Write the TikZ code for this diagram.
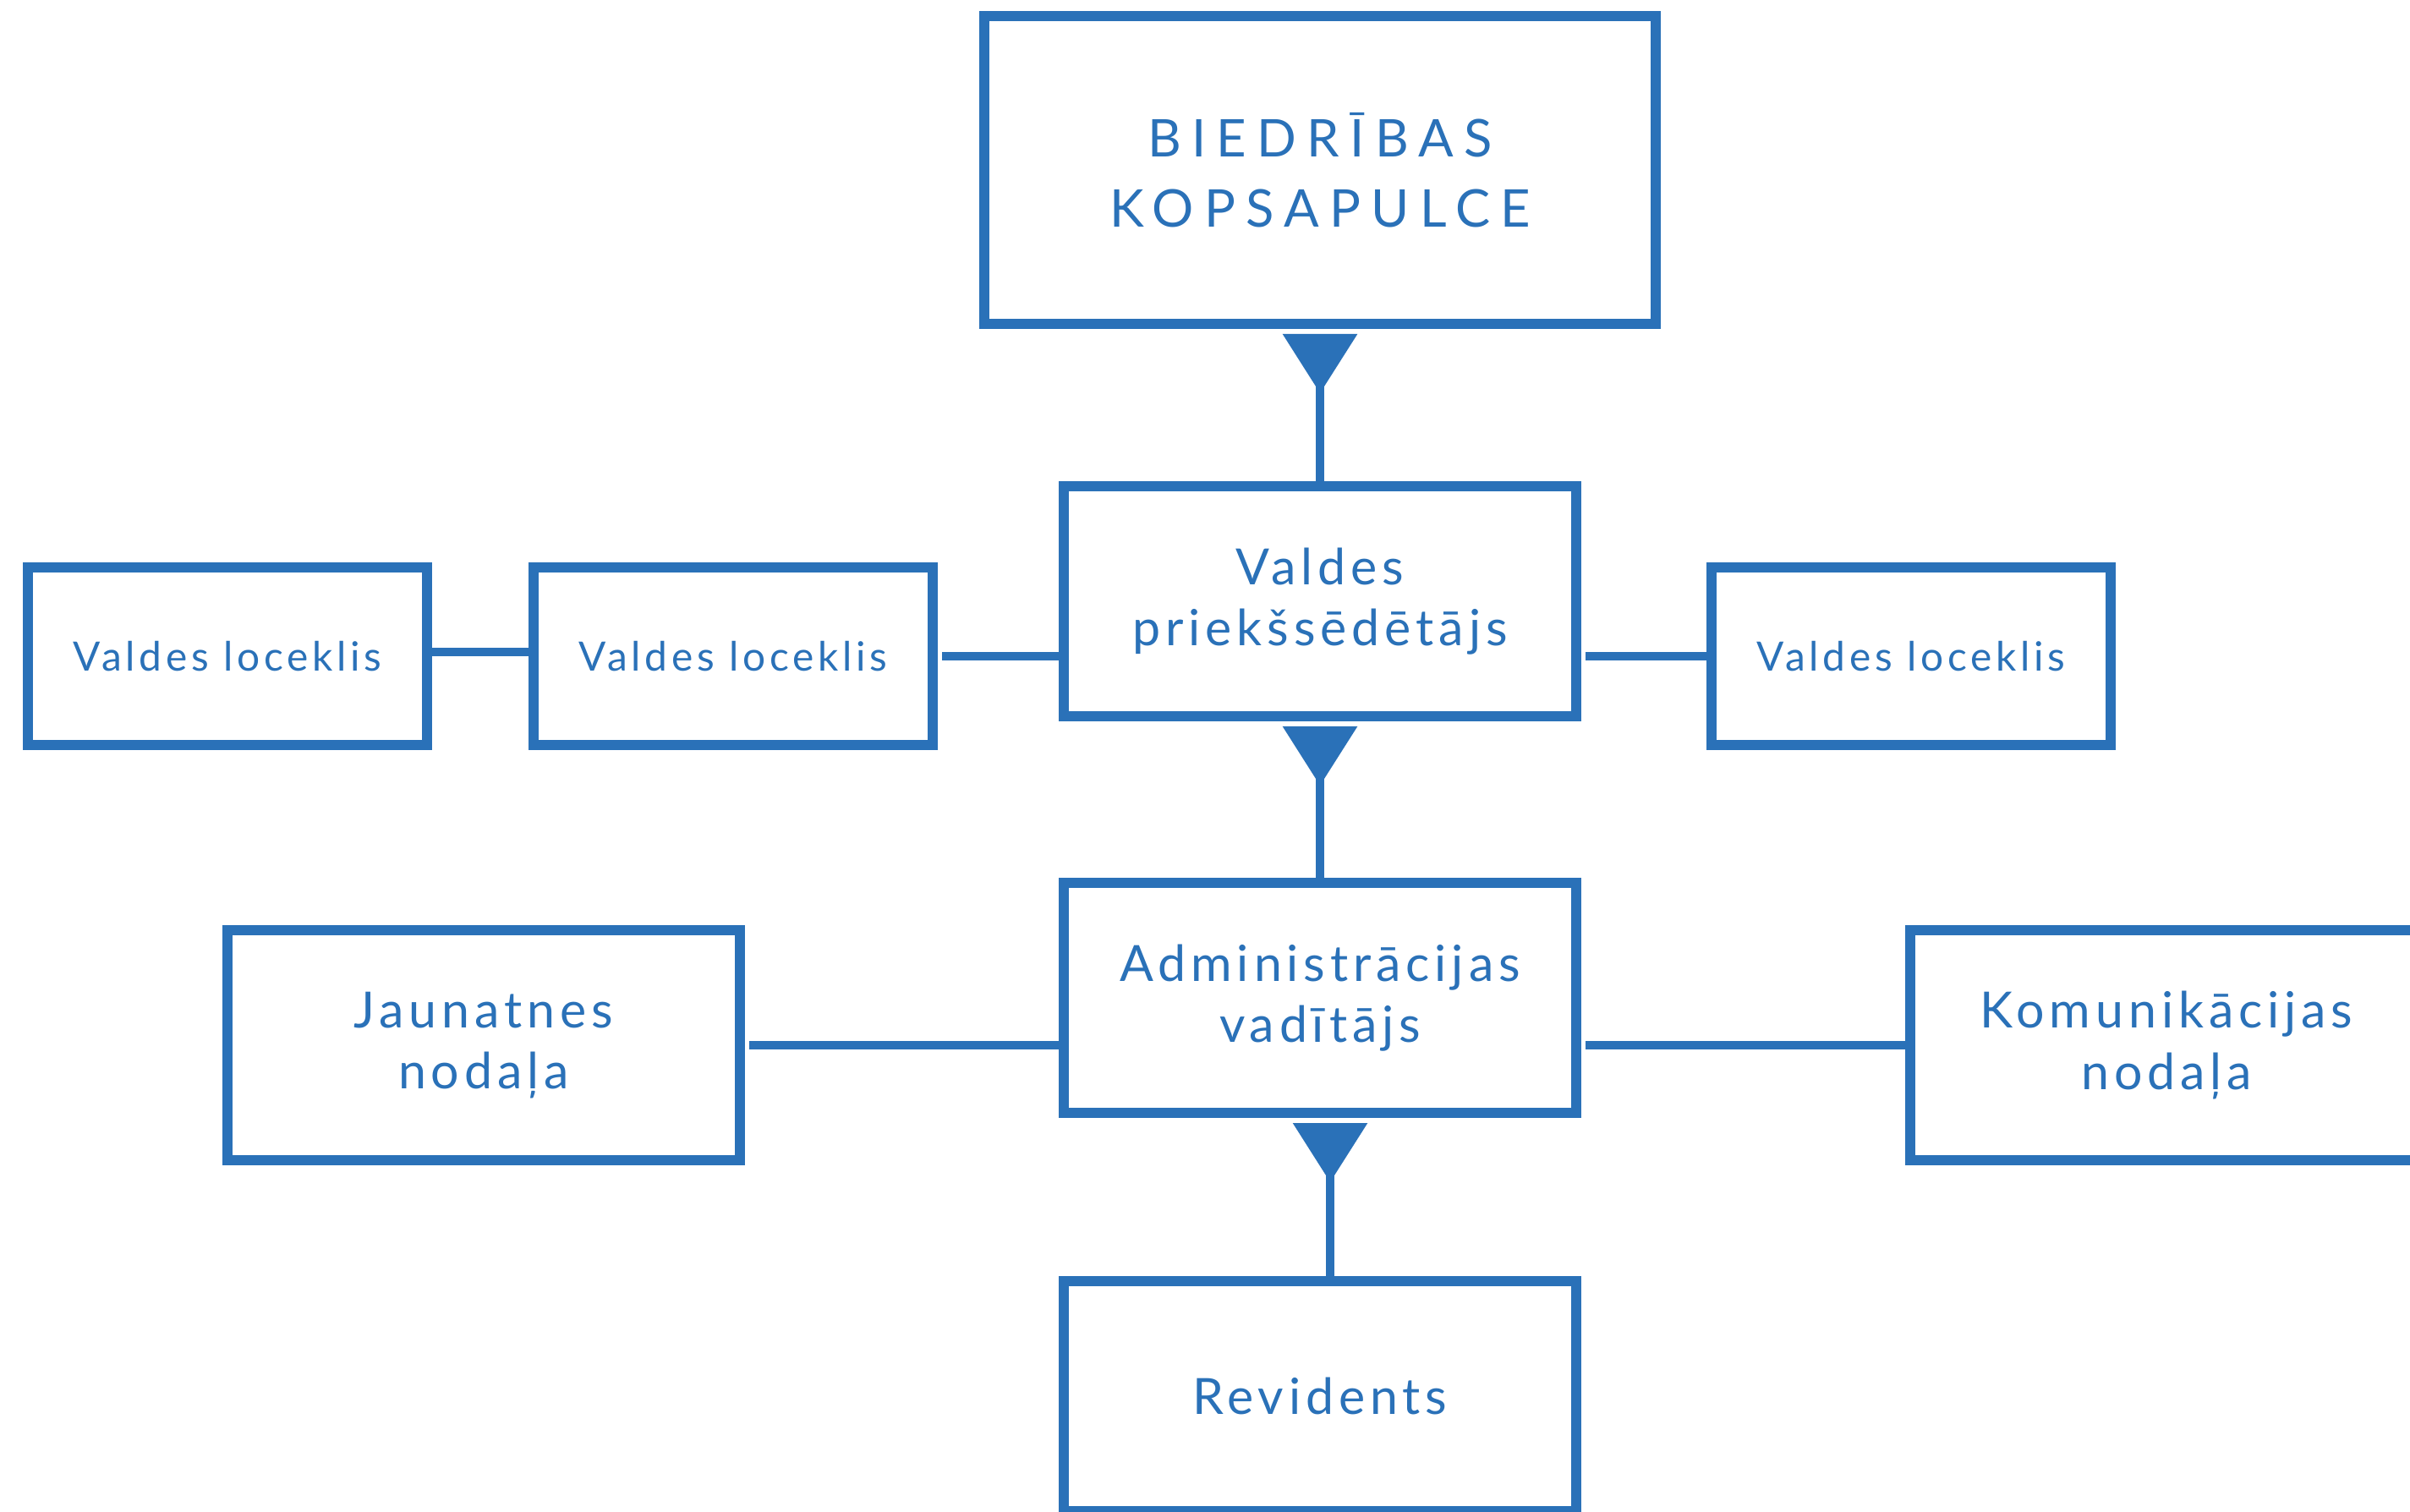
\documentclass[tikz,border=0pt]{standalone}
\usepackage{fontspec}
\setmainfont{Lato}
\newfontfamily\titlefont[LetterSpace=20]{Lato}
\newfontfamily\boxfont[LetterSpace=10]{Lato}
\usepackage{tikz}
\usetikzlibrary{arrows.meta}
\usepackage{xcolor}
\definecolor{orgblue}{HTML}{2A71B8}

\tikzstyle{box} = [draw=orgblue, line width=0.12cm, fill=white, text=orgblue, align=center, inner sep=0pt]
\tikzstyle{bigbox} = [box, minimum width=7.94cm, minimum height=3.64cm, font=\titlefont\fontsize{17.5}{23.5}\selectfont]
\tikzstyle{midbox} = [box, minimum width=6.06cm, minimum height=2.72cm, font=\boxfont\fontsize{16.8}{20.5}\selectfont]
\tikzstyle{smallbox} = [box, minimum width=4.72cm, minimum height=2.10cm, font=\boxfont\fontsize{13.6}{16}\selectfont]
\tikzstyle{link} = [draw=orgblue, line width=0.1cm]
\tikzstyle{downlink} = [link, {Triangle[reversed,width=0.86cm,length=0.70cm]}-, shorten <=0.06cm]

\begin{document}
\begin{tikzpicture}
    \fill[white] (0,0) rectangle (28.5,-17.88);
    \useasboundingbox (0,0) rectangle (28.5,-17.88);
    \clip (0,0) rectangle (28.5,-17.88);

    % Main column
    \node[bigbox] (meeting) at (15.61,-2.01) {BIEDRĪBAS\\KOPSAPULCE};
    \node[midbox] (chair) at (15.61,-7.11) {Valdes\\priekšsēdētājs};
    \node[midbox] (admin) at (15.61,-11.80) {Administrācijas\\vadītājs};
    \node[midbox] (auditor) at (15.61,-16.51) {Revidents};

    % Board members
    \node[smallbox] (memberA) at (2.69,-7.76) {Valdes loceklis};
    \node[smallbox] (memberB) at (8.67,-7.76) {Valdes loceklis};
    \node[smallbox] (memberC) at (22.60,-7.76) {Valdes loceklis};

    % Departments
    \node[midbox] (youth) at (5.72,-12.36) {Jaunatnes\\nodaļa};
    \node[midbox] (comms) at (25.62,-12.36) {Komunikācijas\\nodaļa};

    % Vertical links
    \draw[downlink] (meeting.south) -- (chair.north);
    \draw[downlink] (chair.south) -- (admin.north);
    \draw[downlink] ([xshift=0.12cm]admin.south) -- ([xshift=0.12cm]auditor.north);

    % Side links
    \draw[link] ([yshift=0.05cm]memberA.east) -- ([yshift=0.05cm]memberB.west);
    \draw[link, shorten <=0.05cm] (memberB.east) -- (memberB.east -| chair.west);
    \draw[link, shorten <=0.05cm] (chair.east |- memberC.west) -- (memberC.west);
    \draw[link, shorten <=0.05cm] (youth.east) -- (youth.east -| admin.west);
    \draw[link, shorten <=0.05cm] (admin.east |- comms.west) -- (comms.west);
\end{tikzpicture}
\end{document}
